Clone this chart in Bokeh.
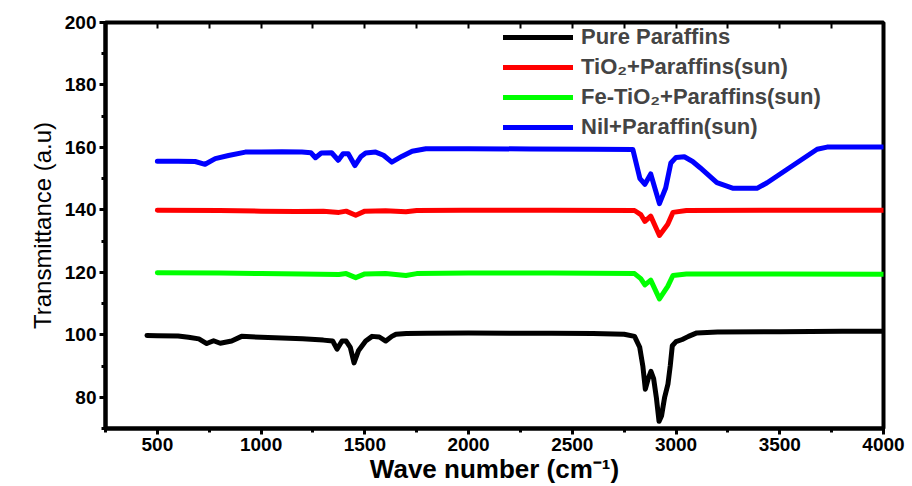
from bokeh.plotting import figure
from bokeh.models import Range1d, SingleIntervalTicker, LinearAxis, Legend, LegendItem
from bokeh.embed import file_html
from bokeh.resources import INLINE

# ---- data ----
pure_wn = [450, 500, 600, 650, 700, 738, 771, 803, 858, 906, 1000, 1100, 1200, 1300, 1345, 1366, 1390, 1410,
           1430, 1448, 1470, 1504, 1535, 1570, 1601, 1630, 1650, 1700, 1800, 2000, 2200, 2400, 2600, 2750,
           2800, 2825, 2840, 2852, 2866, 2879, 2892, 2905, 2918, 2930, 2945, 2961, 2972, 2982, 3000, 3030,
           3060, 3100, 3200, 3500, 3800, 4000]
pure_val = [99.8, 99.7, 99.6, 99.2, 98.7, 97.2, 98.1, 97.3, 98.0, 99.5, 99.2, 99.0, 98.7, 98.3, 98.0, 95.4,
            98.0, 98.0, 96.0, 91.0, 95.0, 98.0, 99.5, 99.3, 98.0, 99.5, 100.2, 100.4, 100.5, 100.6, 100.5,
            100.5, 100.4, 100.2, 99.5, 96.0, 90.0, 82.6, 86.0, 88.3, 86.0, 80.0, 72.3, 74.0, 80.0, 84.2, 90.0,
            96.5, 97.8, 98.5, 99.5, 100.6, 100.9, 101.0, 101.1, 101.1]

tio2_wn = [500, 800, 1000, 1167, 1300, 1375, 1410, 1456, 1500, 1600, 1698, 1750, 1970, 2400, 2800, 2830,
           2850, 2878, 2920, 2960, 2985, 3050, 3500, 4000]
tio2_val = [139.9, 139.8, 139.6, 139.5, 139.6, 139.2, 139.6, 138.3, 139.6, 139.7, 139.4, 139.8, 139.9, 139.9,
            139.8, 138.5, 136.3, 138.0, 131.8, 135.4, 139.2, 139.8, 139.9, 139.9]

fe_wn = [500, 800, 1000, 1200, 1375, 1410, 1456, 1500, 1600, 1698, 1750, 2000, 2400, 2800, 2830, 2850,
         2878, 2920, 2960, 2985, 3050, 3500, 4000]
fe_val = [119.9, 119.8, 119.6, 119.5, 119.3, 119.6, 118.3, 119.5, 119.6, 119.0, 119.6, 119.8, 119.8, 119.6,
          118.0, 116.0, 117.5, 111.5, 115.5, 119.0, 119.5, 119.5, 119.4]

nil_wn = [500, 600, 682, 730, 779, 843, 924, 1000, 1100, 1197, 1240, 1262, 1290, 1340, 1372, 1395, 1420,
          1452, 1480, 1504, 1552, 1590, 1630, 1680, 1728, 1794, 2000, 2300, 2600, 2792, 2826, 2850, 2878,
          2920, 2950, 2975, 3000, 3040, 3080, 3116, 3197, 3276, 3390, 3439, 3536, 3680, 3728, 4000]
nil_val = [155.6, 155.6, 155.5, 154.6, 156.4, 157.4, 158.5, 158.5, 158.6, 158.5, 158.3, 156.7, 158.2, 158.3,
           155.9, 158.0, 158.0, 154.2, 157.0, 158.2, 158.5, 157.5, 155.3, 157.2, 158.8, 159.6, 159.6, 159.5,
           159.4, 159.3, 150.0, 148.2, 151.5, 142.0, 147.0, 155.0, 156.8, 157.0, 155.5, 153.5, 148.7, 146.9,
           146.9, 148.7, 153.0, 159.4, 160.1, 160.1]

labels = ["Pure Paraffins", "TiO\u2082+Paraffins(sun)", "Fe-TiO\u2082+Paraffins(sun)", "Nil+Paraffin(sun)"]
colors = ["#000000", "#ff0000", "#00ff00", "#0000ff"]

FONT = "Liberation Sans"

p = figure(width=912, height=486, output_backend="svg", toolbar_location=None,
           x_range=Range1d(250, 4000), y_range=Range1d(70, 200),
           min_border_left=105, min_border_right=29, min_border_top=22, min_border_bottom=55)
p.grid.visible = False
p.outline_line_color = "black"
p.outline_line_width = 4
p.background_fill_color = "white"
p.border_fill_color = "white"

series = [(pure_wn, pure_val), (tio2_wn, tio2_val), (fe_wn, fe_val), (nil_wn, nil_val)]
renderers = []
for (xs, ys), c in zip(series, colors):
    r = p.line(xs, ys, line_color=c, line_width=5, line_join="round", line_cap="round")
    renderers.append(r)

# axes
xa = p.xaxis[0]
xa.ticker = SingleIntervalTicker(interval=500, num_minor_ticks=2)
ya = p.yaxis[0]
ya.ticker = SingleIntervalTicker(interval=20, num_minor_ticks=2)
for ax in (xa, ya):
    ax.axis_line_width = 4
    ax.axis_line_color = "black"
    ax.major_tick_line_width = 3
    ax.minor_tick_line_width = 3
    ax.major_tick_out = 6
    ax.major_tick_in = 0
    ax.minor_tick_out = 4
    ax.minor_tick_in = 0
    ax.major_label_text_font = FONT
    ax.major_label_text_font_style = "bold"
    ax.major_label_text_font_size = "19px"
    ax.major_label_text_color = "black"
    ax.axis_label_text_color = "black"
    ax.axis_label_text_font = FONT
    ax.major_label_standoff = 3
xa.axis_label = "Wave number (cm\u207b\u00b9)"
xa.axis_label_text_font_size = "26px"
xa.axis_label_text_font_style = "bold"
xa.axis_label_standoff = 0
ya.axis_label = "Transmittance (a.u)"
ya.axis_label_text_font_size = "24px"
ya.axis_label_text_font_style = "normal"
ya.axis_label_standoff = 6

top = LinearAxis(ticker=SingleIntervalTicker(interval=250, num_minor_ticks=0),
                 axis_line_color=None, major_tick_in=6, major_tick_out=0, major_tick_line_width=2,
                 major_label_text_font_size="0px", major_label_text_color=None, minor_tick_line_color=None)
p.add_layout(top, "above")

legend = Legend(items=[LegendItem(label=l, renderers=[r]) for l, r in zip(labels, renderers)],
                location=(398, 288), glyph_width=70, glyph_height=20, label_height=20, spacing=4,
                padding=0, margin=0, border_line_color=None, background_fill_alpha=0,
                label_text_font=FONT, label_text_font_style="bold", label_text_font_size="22px",
                label_standoff=8)
p.add_layout(legend, "center")

open("out.html", "w").write(file_html(p, INLINE))
